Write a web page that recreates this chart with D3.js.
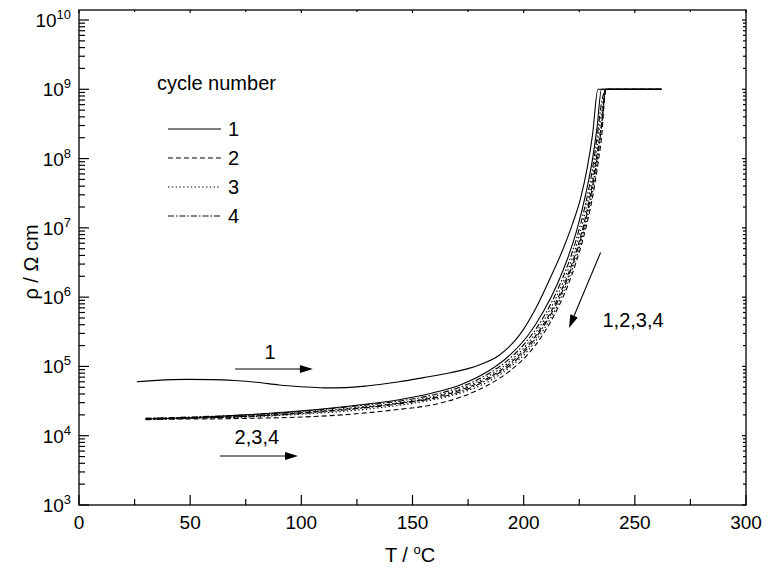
<!DOCTYPE html>
<html><head><meta charset="utf-8">
<script src="https://cdn.jsdelivr.net/npm/d3@7"></script>
<style>
body{margin:0;background:#fff;}
svg{display:block;font-family:"Liberation Sans",Arial,Helvetica,sans-serif;}
</style></head>
<body><svg id="c" width="775" height="572"></svg>
<script>
// ---- data (temperature in °C, resistivity in Ω cm) ----
const cycle1HeatT   = [26,35,48,60,70,80,90,100,110,120,130,144,155,167,180,189,198,206.4,212,218,222,225.5,228.5,231,233.4,262];
const cycle1HeatRho = [6.0e4,6.3e4,6.5e4,6.45e4,6.25e4,5.9e4,5.4e4,5.1e4,4.9e4,4.95e4,5.25e4,6.0e4,6.9e4,8.1e4,1.05e5,1.45e5,2.8e5,7.9e5,1.9e6,5.2e6,1.15e7,2.6e7,7.1e7,2.24e8,1e9,1e9];

const gridT = [30,50,75,100,122,144,158,172,184,194,202,209,215,220,224,228,231,233,235,237,262];
const cycle1CoolRho = [1.74e4,1.82e4,2.0e4,2.29e4,2.69e4,3.31e4,4.07e4,5.5e4,8.5e4,1.48e5,2.82e5,6.3e5,1.51e6,3.8e6,9.5e6,3.16e7,1.0e8,2.8e8,1e9,1e9,1e9];
const cycle2CoolRho = [1.78e4,1.82e4,1.9e4,2.14e4,2.45e4,2.95e4,3.47e4,4.6e4,6.8e4,1.12e5,2.0e5,4.1e5,9.1e5,2.14e6,5.0e6,1.51e7,4.5e7,1.15e8,3.16e8,1e9,1e9];
const cycle3CoolRho = [1.74e4,1.82e4,1.95e4,2.19e4,2.51e4,3.0e4,3.6e4,4.8e4,7.2e4,1.2e5,2.19e5,4.6e5,1.05e6,2.5e6,6.0e6,1.86e7,5.6e7,1.51e8,4.5e8,1e9,1e9];
const cycle4CoolRho = [1.78e4,1.86e4,2.0e4,2.24e4,2.63e4,3.16e4,3.8e4,5.1e4,7.8e4,1.32e5,2.45e5,5.2e5,1.23e6,3.0e6,7.4e6,2.34e7,7.2e7,2.0e8,6.3e8,1e9,1e9];
const cycle2HeatRho = [1.74e4,1.74e4,1.78e4,1.86e4,2.04e4,2.4e4,2.75e4,3.63e4,5.4e4,8.7e4,1.51e5,3.0e5,6.6e5,1.51e6,3.5e6,1.0e7,2.8e7,6.9e7,2.0e8,1e9,1e9];
const cycle3HeatRho = [1.74e4,1.78e4,1.86e4,2.04e4,2.29e4,2.75e4,3.24e4,4.17e4,6.0e4,9.8e4,1.7e5,3.4e5,7.4e5,1.74e6,4.0e6,1.17e7,3.4e7,8.5e7,3.16e8,1e9,1e9];
const cycle4HeatRho = [1.7e4,1.78e4,1.9e4,2.09e4,2.4e4,2.88e4,3.39e4,4.37e4,6.5e4,1.05e5,1.86e5,3.8e5,8.3e5,1.95e6,4.6e6,1.35e7,4.0e7,1.0e8,2.8e8,1e9,1e9];

const legendLabels = ["1","2","3","4"];
const xTicks = [0,50,100,150,200,250,300];
const yExponents = [3,4,5,6,7,8,9,10];

// ---- layout ----
const svg = d3.select("#c");
const L = 79, R = 746, B = 505, T10 = 20, TOP = 10;
const x = d3.scaleLinear().domain([0,300]).range([L,R]);
const y = d3.scaleLog().domain([1e3,1e10]).range([B,T10]);
const dashes = {1:null, 2:"5,3", 3:"1.4,2.4", 4:"6,2,1.5,2"};

// curves
const line = d3.line().x(d=>x(d[0])).y(d=>y(d[1])).curve(d3.curveMonotoneX);
const series = [
  {c:1, T:cycle1HeatT, v:cycle1HeatRho},
  {c:1, T:gridT, v:cycle1CoolRho},
  {c:2, T:gridT, v:cycle2CoolRho},
  {c:3, T:gridT, v:cycle3CoolRho},
  {c:4, T:gridT, v:cycle4CoolRho},
  {c:2, T:gridT, v:cycle2HeatRho},
  {c:3, T:gridT, v:cycle3HeatRho},
  {c:4, T:gridT, v:cycle4HeatRho}
];
svg.append("g").selectAll("path").data(series).join("path")
  .attr("d", s => line(s.T.map((t,i)=>[t,s.v[i]])))
  .attr("fill","none").attr("stroke","#000").attr("stroke-width",1.1)
  .attr("stroke-dasharray", s => dashes[s.c]);

// frame
svg.append("rect").attr("x",L).attr("y",TOP).attr("width",R-L).attr("height",B-TOP)
  .attr("fill","none").attr("stroke","#222").attr("stroke-width",1.5);

const ax = svg.append("g").attr("stroke","#000").attr("stroke-width",1.2);
// x ticks
const xMinor = d3.range(25,300,50);
xTicks.forEach(t=>{
  ax.append("line").attr("x1",x(t)).attr("x2",x(t)).attr("y1",B).attr("y2",B-10);
  ax.append("line").attr("x1",x(t)).attr("x2",x(t)).attr("y1",TOP).attr("y2",TOP+3);
});
xMinor.forEach(t=>{
  ax.append("line").attr("x1",x(t)).attr("x2",x(t)).attr("y1",B).attr("y2",B-6);
  ax.append("line").attr("x1",x(t)).attr("x2",x(t)).attr("y1",TOP).attr("y2",TOP+2);
});
// y ticks
yExponents.forEach(e=>{
  const v = Math.pow(10,e);
  ax.append("line").attr("x1",L).attr("x2",L+10).attr("y1",y(v)).attr("y2",y(v));
  ax.append("line").attr("x1",R).attr("x2",R-4).attr("y1",y(v)).attr("y2",y(v));
  if (e<10) for (let k=2;k<=9;k++){
    const m = k*v;
    ax.append("line").attr("x1",L).attr("x2",L+6).attr("y1",y(m)).attr("y2",y(m));
    ax.append("line").attr("x1",R).attr("x2",R-3).attr("y1",y(m)).attr("y2",y(m));
  }
});

// tick labels
svg.append("g").selectAll("text").data(xTicks).join("text")
  .attr("x",d=>x(d)).attr("y",B+24).attr("text-anchor","middle")
  .attr("font-size",19).text(d=>d);
const yl = svg.append("g").selectAll("text").data(yExponents).join("text")
  .attr("x",71).attr("y",d=>y(Math.pow(10,d))+7).attr("text-anchor","end").attr("font-size",19);
yl.append("tspan").text("10");
yl.append("tspan").attr("font-size",13).attr("dy",-8).text(d=>d);

// axis titles
const xt = svg.append("text").attr("x",410).attr("y",562).attr("text-anchor","middle").attr("font-size",20);
xt.append("tspan").text("T / ");
xt.append("tspan").attr("font-size",13).attr("dy",-8).text("o");
xt.append("tspan").attr("dy",8).text("C");
svg.append("text").attr("transform","translate(38,262) rotate(-90)").attr("text-anchor","middle")
  .attr("font-size",20).text("ρ / Ω cm");

// legend
svg.append("text").attr("x",157).attr("y",90).attr("font-size",20).text("cycle number");
const lg = svg.append("g").selectAll("g").data(legendLabels).join("g")
  .attr("transform",(d,i)=>`translate(0,${129+i*29})`);
lg.append("line").attr("x1",168).attr("x2",221).attr("y1",0).attr("y2",0)
  .attr("stroke","#000").attr("stroke-width",1.1).attr("stroke-dasharray",(d,i)=>dashes[i+1]);
lg.append("text").attr("x",228).attr("y",7).attr("font-size",20).text(d=>d);

// annotations (in data coordinates)
function arrow(t0,r0,t1,r1){
  const x0=x(t0),y0=y(r0),x1=x(t1),y1=y(r1);
  const a=Math.atan2(y1-y0,x1-x0), hl=13, hw=4;
  svg.append("line").attr("x1",x0).attr("y1",y0).attr("x2",x1-Math.cos(a)*hl*0.8).attr("y2",y1-Math.sin(a)*hl*0.8)
    .attr("stroke","#000").attr("stroke-width",1.1);
  const bx=x1-Math.cos(a)*hl, by=y1-Math.sin(a)*hl;
  svg.append("path").attr("d",`M${x1},${y1}L${bx-Math.sin(a)*hw},${by+Math.cos(a)*hw}L${bx+Math.sin(a)*hw},${by-Math.cos(a)*hw}Z`)
    .attr("fill","#000");
}
function label(t,r,s){
  svg.append("text").attr("x",x(t)).attr("y",y(r)+7).attr("text-anchor","middle").attr("font-size",20).text(s);
}
arrow(70.2,9.2e4,105.2,9.2e4); label(85.9,1.62e5,"1");
arrow(63.4,5.1e3,98.5,5.1e3); label(80,9.5e3,"2,3,4");
arrow(234.6,4.4e6,220.4,3.6e5); label(249.2,4.7e5,"1,2,3,4");
</script></body></html>
